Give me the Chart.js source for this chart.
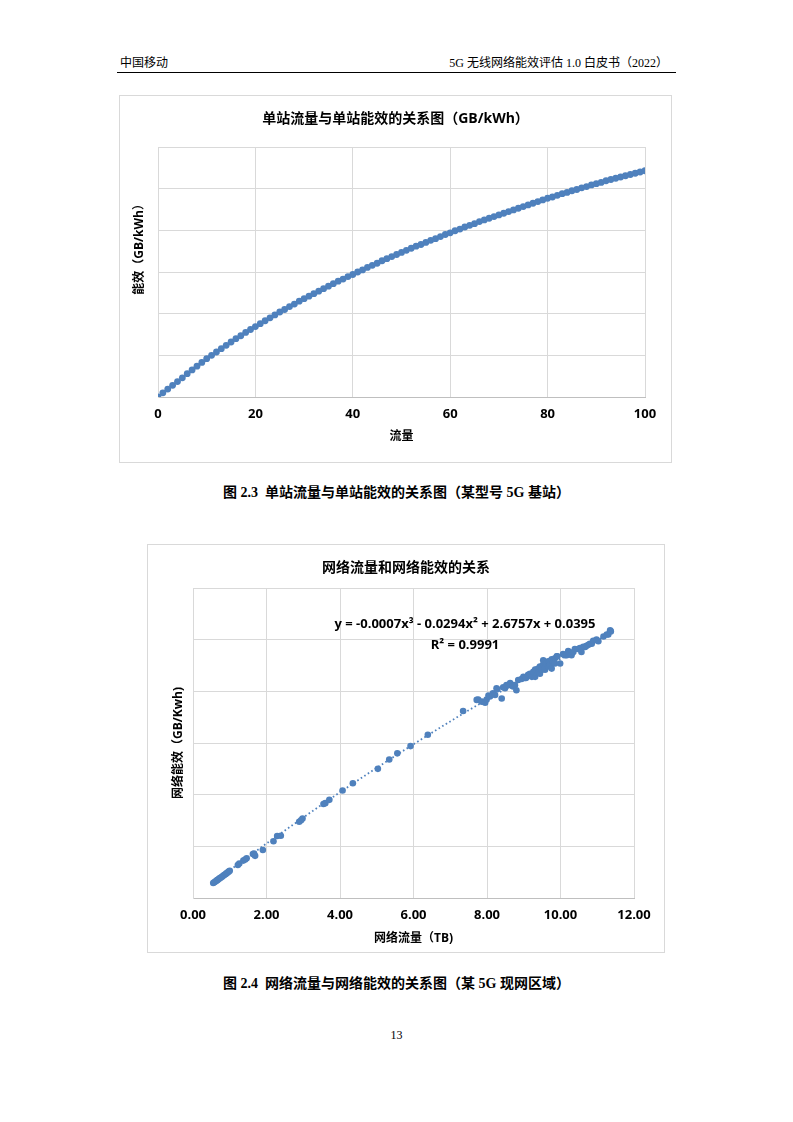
<!DOCTYPE html>
<html>
<head>
<meta charset="utf-8">
<script src="https://cdn.jsdelivr.net/npm/chart.js@4.4.0/dist/chart.umd.min.js"></script>
<style>
  body { margin: 0; background: #fff; }
  #page { position: relative; width: 793px; height: 1122px; color: #000;
          font-family: "Liberation Serif", "Noto Sans CJK SC", serif; }
  .hdr { position: absolute; top: 55px; font-size: 12px; line-height: 16px; white-space: nowrap; }
  .rule { position: absolute; left: 117px; top: 72px; width: 559px; height: 0; border-top: 1.3px solid #000; }
  .frame { position: absolute; border: 1px solid #d9d9d9; box-sizing: border-box; }
  .caption { position: absolute; left: 0; width: 793px; text-align: center; font-weight: bold;
             font-size: 14px; line-height: 18px; white-space: pre; }
  .pageno { position: absolute; left: 0; width: 793px; top: 1028px; text-align: center; font-size: 12px; }
</style>
</head>
<body>
<div id="page">
  <div class="hdr" style="left:120px">中国移动</div>
  <div class="hdr" style="right:125px">5G 无线网络能效评估 1.0 白皮书（2022）</div>
  <div class="rule"></div>

  <div class="frame" style="left:119px;top:95px;width:553px;height:368px">
    <canvas id="siteChart"></canvas>
  </div>
  <div class="caption" style="top:484px">图 2.3  单站流量与单站能效的关系图（某型号 5G 基站）</div>

  <div class="frame" style="left:147px;top:544px;width:518px;height:409px">
    <canvas id="netChart"></canvas>
  </div>
  <div class="caption" style="top:975px">图 2.4  网络流量与网络能效的关系图（某 5G 现网区域）</div>

  <div class="pageno">13</div>
</div>

<script>
// Figure 2.3 - single site traffic vs efficiency
const siteFlow = [0, 1, 2, 3, 4, 5, 6, 7, 8, 9, 10, 11, 12, 13, 14, 15, 16, 17, 18, 19, 20,
  21, 22, 23, 24, 25, 26, 27, 28, 29, 30, 31, 32, 33, 34, 35, 36, 37, 38, 39, 40,
  41, 42, 43, 44, 45, 46, 47, 48, 49, 50, 51, 52, 53, 54, 55, 56, 57, 58, 59, 60,
  61, 62, 63, 64, 65, 66, 67, 68, 69, 70, 71, 72, 73, 74, 75, 76, 77, 78, 79, 80,
  81, 82, 83, 84, 85, 86, 87, 88, 89, 90, 91, 92, 93, 94, 95, 96, 97, 98, 99, 100];
const siteEff = [0.00, 0.10, 0.19, 0.28, 0.37, 0.46, 0.56, 0.65, 0.74, 0.83, 0.92,
  1.00, 1.08, 1.16, 1.24, 1.32, 1.40, 1.47, 1.55, 1.62, 1.69,
  1.76, 1.83, 1.90, 1.97, 2.04, 2.10, 2.17, 2.23, 2.30, 2.36,
  2.42, 2.48, 2.54, 2.60, 2.66, 2.72, 2.78, 2.83, 2.89, 2.94,
  3.00, 3.05, 3.11, 3.16, 3.21, 3.27, 3.32, 3.37, 3.42, 3.47,
  3.52, 3.57, 3.62, 3.66, 3.71, 3.76, 3.80, 3.85, 3.90, 3.94,
  3.99, 4.03, 4.08, 4.12, 4.16, 4.21, 4.25, 4.29, 4.33, 4.37,
  4.41, 4.45, 4.49, 4.53, 4.57, 4.61, 4.65, 4.69, 4.73, 4.77,
  4.80, 4.84, 4.88, 4.91, 4.95, 4.98, 5.02, 5.05, 5.09, 5.12,
  5.15, 5.19, 5.22, 5.25, 5.28, 5.31, 5.34, 5.37, 5.40, 5.43];

// Figure 2.4 - network traffic (TB) vs efficiency
const netFlow = [0.55, 0.58, 0.61, 0.64, 0.67, 0.70, 0.73, 0.76, 0.79, 0.82, 0.85, 0.88, 0.91, 0.94, 0.97, 1.00,
  1.22, 1.26, 1.37, 1.42, 1.46, 1.63, 1.66, 1.69, 1.90, 2.19, 2.29, 2.39, 2.89, 2.94, 2.98,
  3.55, 3.60, 3.71, 4.07, 4.35, 5.03, 5.34, 5.56, 5.92, 6.39, 7.35,
  7.72, 7.76, 7.86, 7.95, 7.99, 8.04, 8.08, 8.16, 8.22, 8.26, 8.28, 8.40, 8.44, 8.49, 8.53, 8.58,
  8.63, 8.64, 8.70, 8.71, 8.76, 8.80, 8.85, 8.94, 8.99, 9.03, 9.06, 9.12, 9.17, 9.22, 9.26, 9.31,
  9.31, 9.35, 9.40, 9.40, 9.44, 9.44, 9.49, 9.49, 9.53, 9.53, 9.58, 9.58, 9.62, 9.67, 9.67, 9.71,
  9.71, 9.76, 9.76, 9.80, 9.85, 9.85, 9.90, 9.91, 9.99, 10.07, 10.12, 10.17, 10.21, 10.26, 10.30,
  10.35, 10.39, 10.48, 10.53, 10.57, 10.62, 10.67, 10.71, 10.76, 10.80, 10.85, 10.89, 10.98,
  11.03, 11.17, 11.26, 11.30, 11.35, 11.37];
const netEff = [1.45, 1.52, 1.60, 1.68, 1.75, 1.83, 1.92, 1.98, 2.06, 2.15, 2.22, 2.30, 2.38, 2.46, 2.55, 2.63,
  3.20, 3.33, 3.62, 3.72, 3.84, 4.25, 4.30, 4.08, 4.65, 5.49, 6.00, 6.02, 7.38, 7.52, 7.70,
  9.10, 9.18, 9.50, 10.40, 11.10, 12.50, 13.40, 14.00, 14.70, 15.80, 18.10,
  19.17, 19.20, 19.00, 18.90, 19.20, 19.60, 19.50, 19.80, 19.65, 20.30, 20.20, 19.30, 20.40, 20.30, 20.60, 20.60,
  20.80, 20.70, 20.50, 20.50, 20.60, 20.10, 21.10, 21.20, 21.40, 21.30, 21.30, 21.60, 21.70, 21.40, 21.90, 22.10,
  21.40, 22.10, 22.20, 21.80, 22.40, 21.70, 22.40, 22.10, 22.60, 23.00, 22.10, 22.30, 22.70, 22.90, 22.40, 22.90,
  22.60, 23.10, 22.20, 22.80, 23.20, 22.70, 23.40, 23.40, 22.70, 23.60, 23.50, 23.50, 23.90, 23.70, 23.50,
  23.80, 24.10, 24.10, 24.20, 23.80, 24.30, 24.30, 24.40, 24.50, 24.60, 24.60, 24.90, 25.00,
  24.85, 25.30, 25.50, 25.50, 25.90, 25.80];

// polynomial trendline
const trendFlow = [0.55, 2.00, 4.00, 6.00, 8.00, 10.00, 11.37];
const trendEff = [1.50, 5.27, 10.23, 14.88, 19.21, 23.16, 25.62];

const trendText = "y = -0.0007x³ - 0.0294x² + 2.6757x + 0.0395";
const r2Text = "R² = 0.9991";

const blue = "#4f81bd";
const gridGray = "#d9d9d9";
const chartFont = '"Open Sans", "Noto Sans CJK SC", sans-serif';

Chart.defaults.font.family = chartFont;
Chart.defaults.color = "#000";
Chart.defaults.animation = false;

function toPoints(xs, ys) {
  return xs.map((x, i) => ({ x: x, y: ys[i] }));
}

// empty right-hand axis, only reserves the gap between plot and frame
function spacerAxis(width) {
  return {
    position: "right",
    display: true,
    grid: { display: false, drawTicks: false },
    border: { display: false },
    ticks: { display: false },
    afterFit: (scale) => { scale.width = width; },
  };
}

// Figure 2.3
new Chart(document.getElementById("siteChart"), {
  type: "scatter",
  data: {
    datasets: [
      {
        data: toPoints(siteFlow, siteEff),
        backgroundColor: blue,
        borderColor: blue,
        pointRadius: 3.4,
        pointBorderWidth: 0,
      },
    ],
  },
  options: {
    responsive: true,
    maintainAspectRatio: false,
    plugins: {
      legend: { display: false },
      tooltip: { enabled: false },
      title: {
        display: true,
        text: "单站流量与单站能效的关系图（GB/kWh）",
        font: { size: 14, weight: "bold" },
        padding: { top: 14.6, bottom: 19.6 },
      },
    },
    scales: {
      x: {
        type: "linear",
        min: 0,
        max: 100,
        ticks: { stepSize: 20, padding: 9, font: { size: 13, weight: "bold" } },
        grid: { color: gridGray, drawTicks: false },
        border: { color: "#bfbfbf" },
        title: {
          display: true,
          text: "流量",
          font: { size: 12, weight: "bold" },
          padding: { top: 17.8, bottom: 17.8 },
        },
        afterFit: (scale) => { scale.height = 65; },
      },
      y: {
        min: 0,
        max: 6,
        ticks: { stepSize: 1, display: false },
        grid: { color: gridGray, drawTicks: false },
        border: { color: gridGray },
        title: {
          display: true,
          text: "\u3000\u3000\u3000\u3000 能效（GB/kWh）",
          font: { size: 12, weight: "bold" },
          padding: { top: 12.8, bottom: 12.8 },
        },
        afterFit: (scale) => { scale.width = 38; },
      },
      gap: spacerAxis(26),
    },
  },
});

// draws the fitted equation and R² on the network chart
const trendLabel = {
  id: "trendLabel",
  afterDatasetsDraw(chart) {
    const { ctx, chartArea } = chart;
    ctx.save();
    ctx.fillStyle = "#000";
    ctx.font = "bold 13px " + chartFont;
    ctx.textAlign = "center";
    ctx.textBaseline = "middle";
    const cx = chartArea.left + 272;
    ctx.fillText(trendText, cx, chartArea.top + 36);
    ctx.fillText(r2Text, cx, chartArea.top + 57);
    ctx.restore();
  },
};

// Figure 2.4
new Chart(document.getElementById("netChart"), {
  type: "scatter",
  data: {
    datasets: [
      {
        data: toPoints(netFlow, netEff),
        backgroundColor: blue,
        borderColor: blue,
        pointRadius: 3.3,
        pointBorderWidth: 0,
      },
      {
        data: toPoints(trendFlow, trendEff),
        showLine: true,
        borderColor: blue,
        borderWidth: 1.8,
        borderDash: [1.6, 2.6],
        cubicInterpolationMode: "monotone",
        pointRadius: 0,
      },
    ],
  },
  options: {
    responsive: true,
    maintainAspectRatio: false,
    plugins: {
      legend: { display: false },
      tooltip: { enabled: false },
      title: {
        display: true,
        text: "网络流量和网络能效的关系",
        font: { size: 14, weight: "bold" },
        padding: { top: 14.6, bottom: 11.6 },
      },
    },
    scales: {
      x: {
        type: "linear",
        min: 0,
        max: 12,
        ticks: {
          stepSize: 2,
          padding: 9,
          font: { size: 13, weight: "bold" },
          callback: (v) => v.toFixed(2),
        },
        grid: { color: gridGray, drawTicks: false },
        border: { color: "#bfbfbf" },
        title: {
          display: true,
          text: "网络流量（TB)",
          font: { size: 12, weight: "bold" },
          padding: { top: 5.8, bottom: 5.8 },
        },
        afterFit: (scale) => { scale.height = 54; },
      },
      y: {
        min: 0,
        max: 30,
        ticks: { stepSize: 5, display: false },
        grid: { color: gridGray, drawTicks: false },
        border: { color: gridGray },
        title: {
          display: true,
          text: "网络能效（GB/Kwh)",
          font: { size: 12, weight: "bold" },
          padding: { top: 23.8, bottom: 23.8 },
        },
        afterFit: (scale) => { scale.width = 45; },
      },
      gap: spacerAxis(30),
    },
  },
  plugins: [trendLabel],
});
</script>
</body>
</html>
